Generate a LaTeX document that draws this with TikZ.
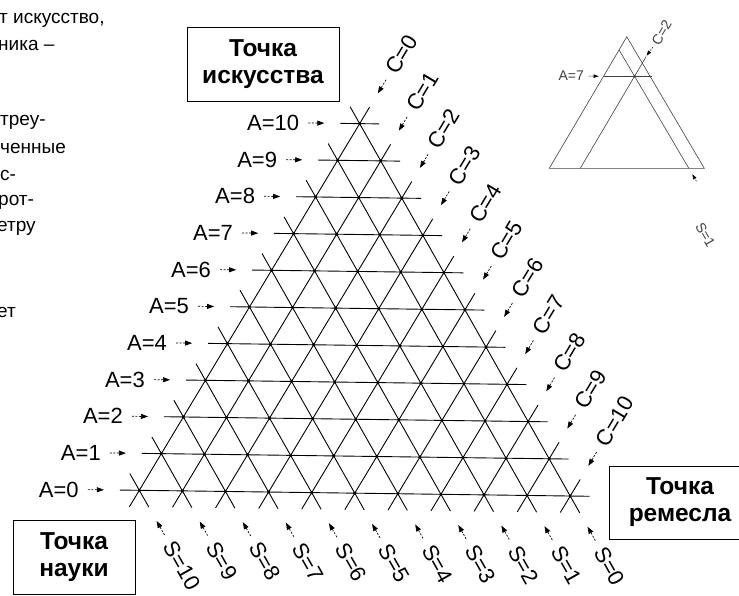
\documentclass[tikz,border=0pt]{standalone}
\usepackage{fontspec}
\setmainfont{Liberation Sans}
\usetikzlibrary{arrows.meta,positioning,calc}

\begin{document}
\begin{tikzpicture}[
  x=1pt, y=-1pt,
  gridline/.style={line width=0.9pt},
  ptr/.style={line width=0.7pt, dash pattern=on 2pt off 1.5pt, -{Triangle[length=7pt,width=5pt]}},
  iptr/.style={line width=0.5pt, dash pattern=on 1.5pt off 1pt, -{Triangle[length=5pt,width=3.5pt]}},
  lbl/.style={inner sep=0pt, font=\fontsize{22}{24}\selectfont},
  pole/.style={draw, line width=1pt, align=center, inner sep=0pt, font=\bfseries\fontsize{24.5}{27}\selectfont},
  margin/.style={anchor=west, inner sep=0pt, font=\fontsize{19}{22}\selectfont},
  small/.style={inner sep=0pt, font=\fontsize{14}{16}\selectfont, text=black!75}
]
  \useasboundingbox (0,0) rectangle (739,595);

  % cut-off text of the page
  \node[margin] (p1) at (-1,20) {т искусство,};
  \node[margin] (p2) at (-2,45) {ника --};
  \node[margin] (p3) at (0,122) {треу-};
  \node[margin] (p4) at (0,148) {ченные};
  \node[margin] (p5) at (0,175) {с-};
  \node[margin] (p6) at (-2,202) {рот-};
  \node[margin] (p7) at (-3,228) {етру};
  \node[margin] (p8) at (-3,312) {ет};

  % the three poles
  \node[pole, minimum width=152pt, minimum height=74pt] (art) at (263,64) {Точка\\искусства};
  \node[pole, minimum width=122pt, minimum height=74pt] (sci) at (74,557) {Точка\\науки};
  \node[pole, minimum width=142pt, minimum height=73pt] (craft) at (680,502.5) {Точка\\ремесла};

  % main triangle grid
  \begin{scope}[shift={(139.3,490.3)}, rotate=-0.76, x={(43.1pt,0pt)}, y={(21.55pt,36.96pt)}]
    \foreach \k in {0,...,10} {
      \pgfmathtruncatemacro\m{10-\k}
      \coordinate (aw\k) at (-0.45,\k);
      \coordinate (ae\k) at (\m+0.45,\k);
      \coordinate (cs\k) at (\k,-0.45);
      \coordinate (cn\k) at (\k,\m+0.45);
      \coordinate (sb\k) at (\m+0.45,-0.45);
      \coordinate (st\k) at (-0.45,\m+0.45);
      \draw[gridline] (aw\k) -- (ae\k);
      \draw[gridline] (cs\k) -- (cn\k);
      \draw[gridline] (sb\k) -- (st\k);
      \foreach \a in {0,...,\m}
        \fill (\a,\k) circle (1.7pt);
    }

    % labels with their arrows
    \foreach \k in {0,...,10} {
      \node[lbl, anchor=east] (al\k) at ([xshift=-41pt]aw\k) {A=\k};
      \draw[ptr] ([xshift=9pt]al\k.east) -- ([xshift=-16pt]aw\k);
      \node[lbl, anchor=west, rotate=59] (cl\k) at ($(cn\k)!-41pt!(cs\k)$) {C=\k};
      \draw[ptr] ($(cl\k.west)!9pt!(cn\k)$) -- ($(cn\k)!-16pt!(cs\k)$);
      \node[lbl, anchor=west, rotate=-60.5] (sl\k) at ($(sb\k)!-41pt!(st\k)$) {S=\k};
      \draw[ptr] ($(sl\k.west)!9pt!(sb\k)$) -- ($(sb\k)!-16pt!(st\k)$);
    }
  \end{scope}

  % small example triangle
  \begin{scope}[shift={(549.3,168.3)}, x={(15.5pt,0pt)}, y={(7.75pt,13.15pt)}, line width=0.6pt, black!75]
    \coordinate (ibl) at (0,0);
    \coordinate (ibr) at (10,0);
    \coordinate (itop) at (0,10);
    \draw (ibl) -- (ibr) -- (itop) -- cycle;
    \coordinate (ic0) at (2,0);
    \coordinate (ic1) at (2,8.5);
    \coordinate (is0) at (9,0);
    \coordinate (is1) at (0,9);
    \coordinate (ia0) at (0,7);
    \coordinate (ia1) at (3.1,7);
    \draw (ic0) -- (ic1);
    \draw (is0) -- (is1);
    \draw (ia0) -- (ia1);
    \fill (2,7) circle (1.5pt);
  \end{scope}
  \node[small, anchor=east] (ial) at (584,76) {A=7};
  \draw[iptr] ([xshift=5pt]ial.east) -- ([xshift=-5pt]ia0);
  \node[small, anchor=west, rotate=60] (icl) at (655,44) {C=2};
  \draw[iptr] ($(icl.west)!4pt!(ic1)$) -- ($(ic1)!-1pt!(ic0)$);
  \coordinate (isb) at ($(is0)!-15pt!(is1)$);
  \draw[iptr] (isb) -- ($(is0)!-7pt!(is1)$);
  \node[small, anchor=west, rotate=-60] (isl) at (699,224) {S=1};
\end{tikzpicture}
\end{document}
